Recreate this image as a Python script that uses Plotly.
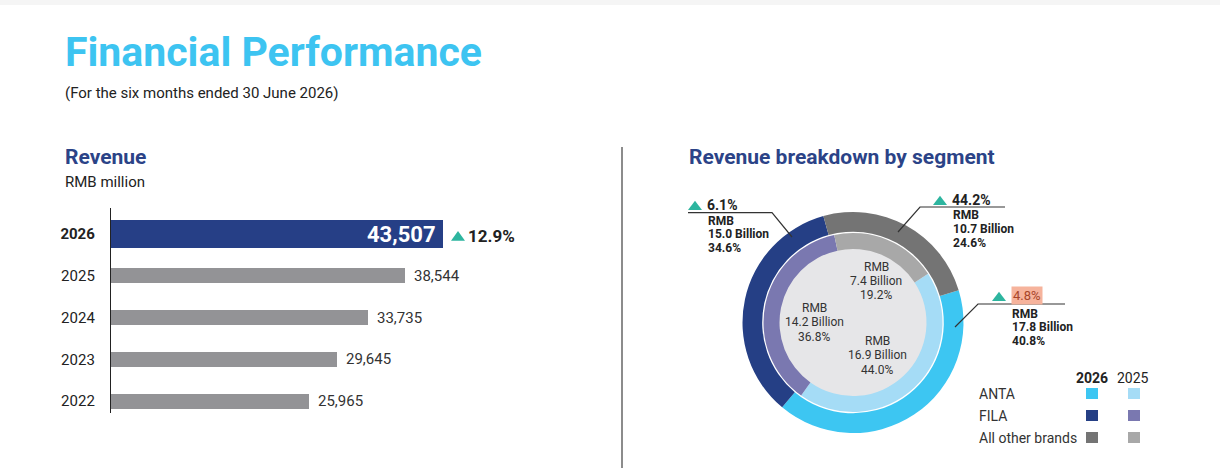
import plotly.graph_objects as go

# Data
years = ["2026", "2025", "2024", "2023", "2022"]
revenue = [43507, 38544, 33735, 29645, 25965]
revenue_growth = "12.9%"

segments = ["ANTA", "FILA", "All other brands"]
seg_2026_bn = [17.8, 15.0, 10.7]
seg_2026_share = [40.8, 34.6, 24.6]
seg_2025_bn = [16.9, 14.2, 7.4]
seg_2025_share = [44.0, 36.8, 19.2]
seg_growth = [4.8, 6.1, 44.2]

# Styling
W, H = 1220, 468
SKY = "#3dc4f1"
NAVY = "#263f86"
BAR_GREY = "#939396"
TEAL = "#2db59f"
TEXT = "#222222"
colors_2026 = ["#3dc6f2", "#253f85", "#747474"]
colors_2025 = ["#a5dcf6", "#7a78b0", "#a8a8a8"]
CENTER_GREY = "#e6e6e8"

# donut geometry in pixels
CX, CY = 853, 322.5
R_OUTER, R_SPLIT, R_INNER = 110.5, 90.8, 73.5


def px(x):
    return x / W


def py(y):
    return 1 - y / H


def pie_domain(r):
    return dict(x=[px(CX - r), px(CX + r)], y=[py(CY + r), py(CY - r)])


def label(x, y, text, size=12, color=TEXT, anchor="left", **kw):
    return dict(
        xref="paper", yref="paper", x=px(x), y=py(y), text=text,
        showarrow=False, xanchor=anchor, yanchor="middle",
        font=dict(size=size, color=color), **kw,
    )


def triangle(x, yc, w=14, up=3.8, down=5.4):
    return dict(
        type="path", xref="paper", yref="paper",
        path=f"M {px(x)},{py(yc + down)} L {px(x + w)},{py(yc + down)} "
             f"L {px(x + w / 2)},{py(yc - up)} Z",
        fillcolor=TEAL, line_width=0,
    )


def polyline(points):
    d = "M " + " L ".join(f"{px(x)},{py(y)}" for x, y in points)
    return dict(type="path", xref="paper", yref="paper", path=d,
                line=dict(color="#333333", width=1.2))


fig = go.Figure()

# Revenue bars
y_idx = list(range(len(years)))
fig.add_trace(go.Bar(
    x=revenue, y=y_idx, orientation="h",
    width=[0.68] + [0.36] * (len(years) - 1),
    marker=dict(color=[NAVY] + [BAR_GREY] * (len(years) - 1), line_width=0),
    hoverinfo="skip", showlegend=False,
))

# Donut: centre disc, 2025 inner ring, 2026 outer ring
fig.add_trace(go.Pie(
    values=[1], marker=dict(colors=[CENTER_GREY]), domain=pie_domain(R_INNER + 1.5),
    textinfo="none", hoverinfo="skip", sort=False, showlegend=False,
))
fig.add_trace(go.Pie(
    labels=segments, values=seg_2025_share, marker=dict(colors=colors_2025, line_width=0),
    hole=R_INNER / (R_SPLIT - 1.3), domain=pie_domain(R_SPLIT - 1.3),
    rotation=57, direction="clockwise", sort=False,
    textinfo="none", hoverinfo="skip", showlegend=False,
))
fig.add_trace(go.Pie(
    labels=segments, values=seg_2026_share, marker=dict(colors=colors_2026, line_width=0),
    hole=R_SPLIT / R_OUTER, domain=pie_domain(R_OUTER),
    rotation=73, direction="clockwise", sort=False,
    textinfo="none", hoverinfo="skip", showlegend=False,
))

annotations = [
    label(63, 52, "<b>Financial Performance</b>", size=41, color=SKY),
    label(63, 93, "(For the six months ended 30 June 2026)", size=15),
    label(63, 157, "<b>Revenue</b>", size=21, color="#2b4387"),
    label(63, 182, "RMB million", size=15),
    label(687, 157, "<b>Revenue breakdown by segment</b>", size=21, color="#2b4387"),
]

# bar value labels
annotations.append(dict(
    xref="x", yref="y", x=revenue[0], y=0, xanchor="right", yanchor="middle",
    xshift=-5, text=f"<b>{revenue[0]:,}</b>", showarrow=False,
    font=dict(size=22, color="white"),
))
annotations.append(dict(
    xref="x", yref="y", x=revenue[0], y=0, xanchor="left", yanchor="middle",
    xshift=23, yshift=-1.5, text=f"<b>{revenue_growth}</b>", showarrow=False,
    font=dict(size=17, color=TEXT),
))
for i in y_idx[1:]:
    annotations.append(dict(
        xref="x", yref="y", x=revenue[i], y=i, xanchor="left", yanchor="middle",
        xshift=7, text=f"{revenue[i]:,}", showarrow=False,
        font=dict(size=15, color="#333333"),
    ))

shapes = []
# growth triangle next to the 2026 bar, anchored to its end
shapes.append(dict(
    type="path", xref="x", yref="y", xsizemode="pixel", ysizemode="pixel",
    xanchor=revenue[0], yanchor=0,
    path="M 8,-6.7 L 22,-6.7 L 15,3 Z", fillcolor=TEAL, line_width=0,
))

# inner (2025) labels inside centre disc
inner_pos = {"ANTA": (877, 341), "FILA": (814, 308), "All other brands": (876, 266.5)}
for seg, bn, share in zip(segments, seg_2025_bn, seg_2025_share):
    x, y = inner_pos[seg]
    for k, line in enumerate(["RMB", f"{bn:.1f} Billion", f"{share:.1f}%"]):
        annotations.append(label(x, y + k * 14.3, line, size=12, color="#333333", anchor="center"))

# outer (2026) callouts
callout_pos = {"ANTA": (992, 295.5), "FILA": (688, 204.5), "All other brands": (933, 199.5)}
leaders = {
    "FILA": [(688, 212.7), (772, 212.7), (792, 237)],
    "All other brands": [(1005, 207), (920, 207), (898, 232)],
    "ANTA": [(1065, 304), (978, 304), (955, 327)],
}
for seg, bn, share, g in zip(segments, seg_2026_bn, seg_2026_share, seg_growth):
    x, y = callout_pos[seg]
    shapes.append(triangle(x, y))
    shapes.append(polyline(leaders[seg]))
    if seg == "ANTA":
        annotations.append(label(x + 19, y, f"{g:.1f}%", size=13, color="#a8452a",
                                 bgcolor="#f6b39c", borderpad=1))
        dy = 2
    else:
        annotations.append(label(x + 17, y, f"<b>{g:.1f}%</b>", size=14))
        dy = 0
    lines = ["<b>RMB</b>", f"<b>{bn:.1f} Billion</b>", f"<b>{share:.1f}%</b>"]
    for k, line in enumerate(lines):
        annotations.append(label(x + 18, y + dy + 16 + k * 13.5, line, size=12, color=TEXT))

# legend grid
annotations.append(label(1092, 377.5, "<b>2026</b>", size=14, anchor="center"))
annotations.append(label(1133, 377.5, "2025", size=14, anchor="center"))
legend_rows = [393.5, 415.5, 437.5]
for seg, c26, c25, yy in zip(segments, colors_2026, colors_2025, legend_rows):
    annotations.append(label(977, yy, seg, size=14, color="#333333"))
    for xx, c in [(1086, c26), (1128, c25)]:
        shapes.append(dict(type="rect", xref="paper", yref="paper",
                           x0=px(xx), x1=px(xx + 12), y0=py(yy + 5.5), y1=py(yy - 5.5),
                           fillcolor=c, line_width=0))

# divider and top band
shapes.append(dict(type="line", xref="paper", yref="paper",
                   x0=px(622), x1=px(622), y0=py(147), y1=0,
                   line=dict(color="#8c8c8c", width=2)))
shapes.append(dict(type="rect", xref="paper", yref="paper",
                   x0=0, x1=1, y0=py(5), y1=1, fillcolor="#f5f5f5", line_width=0,
                   layer="below"))

fig.update_layout(
    width=W, height=H,
    margin=dict(l=0, r=0, t=0, b=0),
    paper_bgcolor="white", plot_bgcolor="rgba(0,0,0,0)",
    font=dict(family="Roboto, sans-serif", color=TEXT),
    xaxis=dict(domain=[px(111), px(560)], range=[0, 58840], visible=False,
               fixedrange=True),
    yaxis=dict(
        domain=[py(413), py(208)], range=[4.287, -0.623],
        tickvals=y_idx,
        ticktext=[f"<b>{y}</b>" if i == 0 else y for i, y in enumerate(years)],
        tickfont=dict(size=15, color=TEXT),
        showline=True, linecolor="#222222", linewidth=1.3,
        showgrid=False, zeroline=False, ticks="", ticklabelstandoff=12,
        fixedrange=True,
    ),
    bargap=0,
    annotations=annotations,
    shapes=shapes,
)

fig.write_html(
    "out.html",
    config={"displayModeBar": False},
    post_script="document.body.style.margin='0';document.body.style.overflow='hidden';",
)
